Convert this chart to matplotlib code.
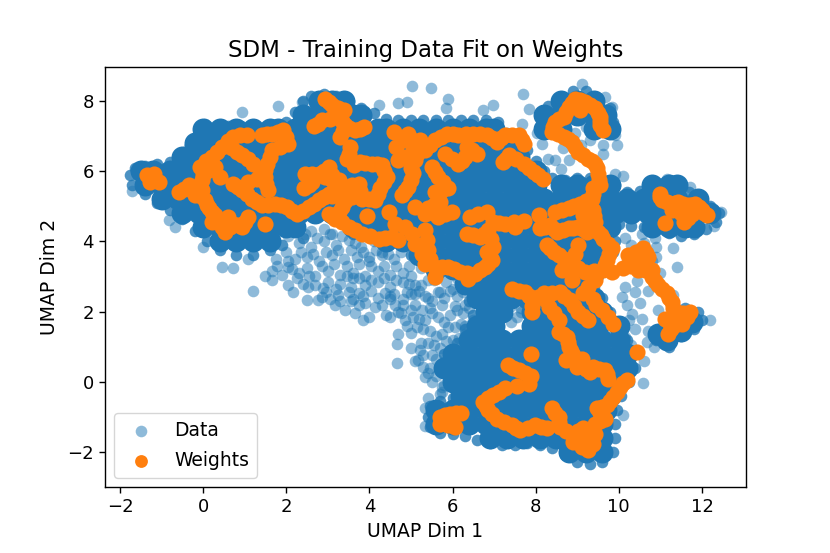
import matplotlib
matplotlib.use("Agg")
import matplotlib.pyplot as plt

# dense middle of the data cloud
core_rows = {
    8.0: [2.8, 3.1, 3.4, 8.6, 9.0, 9.4],
    7.6: [2.4, 2.8, 3.2, 3.6, 3.8, 8.2, 8.6, 9.0, 9.4, 9.7],
    7.2: [0.0, 0.4, 0.8, 1.2, 1.6, 1.8, 2.2, 2.6, 3.0, 3.4, 3.8, 4.2, 4.4, 4.8, 5.2, 5.6, 6.0, 6.4, 6.8, 7.0, 8.2, 8.6, 9.4, 9.8],
    6.8: [-0.2, 0.2, 0.6, 1.0, 1.4, 1.8, 2.2, 2.6, 3.0, 3.4, 3.8, 4.2, 4.6, 5.0, 5.4, 5.8, 6.2, 6.6, 7.0, 7.4],
    6.4: [-0.5, -0.1, 0.3, 0.7, 1.1, 1.5, 1.9, 2.3, 2.7, 3.1, 3.5, 3.9, 4.3, 4.7, 5.1, 5.5, 5.9, 6.3, 6.7, 7.1, 7.6],
    6.0: [-1.5, -1.2, -0.8, -0.4, 0.0, 0.4, 0.8, 1.2, 1.6, 2.0, 2.4, 2.8, 3.2, 3.6, 4.0, 4.4, 4.8, 5.2, 5.6, 6.0, 6.4, 6.8, 7.2, 7.6, 8.0],
    5.6: [-1.4, -1.0, -0.6, -0.2, 0.2, 0.6, 1.0, 1.4, 1.8, 2.2, 2.6, 3.0, 3.4, 3.8, 4.2, 4.6, 5.0, 5.4, 5.8, 6.2, 6.6, 7.0, 7.4, 7.8, 8.0, 8.6, 9.0, 9.4, 9.8, 10.8, 11.2, 11.4],
    5.2: [-1.0, -0.6, -0.2, 0.2, 0.6, 1.0, 1.4, 1.8, 2.2, 2.6, 3.0, 3.4, 3.8, 4.2, 4.6, 5.0, 5.4, 5.8, 6.2, 6.6, 7.0, 7.4, 7.8, 8.2, 8.6, 9.0, 9.4, 9.8, 10.2, 10.6, 11.0, 11.4, 11.9],
    4.8: [-0.5, -0.1, 0.3, 0.7, 1.1, 1.5, 1.9, 2.3, 2.7, 3.1, 3.5, 3.9, 4.3, 4.7, 5.1, 5.5, 5.9, 6.3, 6.7, 7.1, 7.5, 7.9, 8.3, 8.7, 9.1, 9.5, 9.9, 10.3, 10.7, 11.1, 11.5, 11.9, 12.2],
    4.4: [0.0, 0.4, 0.8, 1.2, 1.6, 2.0, 2.2, 3.6, 4.0, 4.4, 4.8, 5.2, 5.6, 6.0, 6.4, 6.8, 7.2, 7.6, 8.0, 8.4, 8.8, 9.2, 9.6, 9.8, 10.8, 11.2, 11.6, 11.8],
    4.0: [0.4, 0.8, 1.2, 1.6, 4.4, 4.8, 5.2, 5.6, 6.0, 6.4, 6.8, 7.2, 7.6, 8.0, 8.4, 8.8, 9.2, 9.6],
    3.6: [5.2, 5.6, 6.0, 6.4, 6.8, 7.2, 7.6, 8.0, 8.4, 8.8, 9.2, 9.6],
    3.2: [5.6, 6.0, 6.4, 6.8, 7.2, 7.6, 8.0, 8.4, 8.8, 9.2],
    2.8: [6.3, 6.7, 7.1, 7.5, 7.9, 8.3, 8.7, 9.0],
    2.4: [6.6, 7.0, 7.4, 7.8, 8.2, 8.6, 9.0, 9.4],
    2.0: [6.8, 7.2, 7.9, 8.3, 8.7, 9.1, 9.6],
    1.6: [6.6, 7.0, 7.9, 8.3, 8.7, 9.1, 9.5, 10.0],
    1.2: [6.4, 6.8, 7.2, 7.6, 8.0, 8.4, 8.8, 9.2, 9.6, 10.0],
    0.8: [6.0, 6.4, 6.8, 7.2, 7.6, 8.0, 8.4, 8.8, 9.2, 9.6, 10.0, 10.2],
    0.4: [5.8, 6.2, 6.6, 7.0, 7.4, 7.8, 8.2, 8.6, 9.0, 9.4, 9.8, 10.2],
    0.0: [6.0, 6.4, 6.8, 7.2, 7.6, 8.0, 8.4, 8.8, 9.2, 9.6, 10.0],
    -0.4: [6.2, 6.6, 7.0, 7.4, 7.8, 8.2, 8.6, 9.0, 9.4, 9.8],
    -0.8: [5.6, 6.0, 6.4, 6.8, 7.2, 7.6, 8.0, 8.4, 8.8, 9.2, 9.7],
    -1.2: [5.6, 6.0, 6.4, 6.8, 7.2, 7.6, 8.0, 8.4, 8.8, 9.2, 9.6],
    -1.6: [6.9, 7.3, 7.7, 8.1, 8.5, 8.9, 9.3, 9.6],
    -2.0: [8.8, 9.2, 9.6],
}
core_extra = [(11.5, 1.85), (11.75, 1.7), (11.2, 1.6), (11.5, 1.45), (10.95, 1.35), (11.15, 1.2)]

# outline of the solid cloud, points overlap enough to close the scallops
outline = [(-1.7, 5.6), (-1.75, 5.9), (-1.65, 6.1), (-1.4, 6.15), (-1.1, 6.2), (-0.8, 6.25), (-0.5, 6.35), (-0.3, 6.6), (-0.1, 6.85), (0.0, 7.1),
           (0.3, 7.25), (0.6, 7.3), (0.9, 7.3), (1.2, 7.3), (1.5, 7.25), (1.8, 7.2), (2.0, 7.4), (2.2, 7.7), (2.4, 8.0), (2.6, 8.15), (2.9, 8.2),
           (3.2, 8.15), (3.5, 8.0), (3.8, 7.8), (4.1, 7.65), (4.4, 7.5), (4.7, 7.45), (5.0, 7.45), (5.3, 7.45), (5.6, 7.45), (5.9, 7.45), (6.2, 7.45),
           (6.5, 7.45), (6.8, 7.45), (7.1, 7.4), (7.3, 7.1), (7.6, 6.9), (7.8, 6.6), (8.0, 6.3), (8.2, 6.0), (8.4, 5.8), (8.7, 5.75), (9.0, 5.8),
           (9.3, 5.8), (9.6, 5.75), (9.9, 5.6), (10.2, 5.4), (10.5, 5.45), (10.8, 5.55), (11.1, 5.6), (11.4, 5.5), (11.7, 5.4), (12.0, 5.2), (12.2, 5.0),
           (12.4, 4.8), (12.35, 4.55), (12.1, 4.35), (11.8, 4.2), (11.5, 4.15), (11.2, 4.25), (10.9, 4.35), (10.6, 4.4), (10.3, 4.45), (10.0, 4.5),
           (9.8, 4.3), (9.9, 4.0), (9.85, 3.7), (9.7, 3.3), (9.5, 3.0), (9.4, 2.7), (9.6, 2.4), (9.8, 2.0), (10.1, 1.6), (10.2, 1.2), (10.35, 0.8),
           (10.4, 0.4), (10.25, 0.0), (10.05, -0.4), (9.95, -0.8), (9.9, -1.2), (9.9, -1.6), (9.85, -2.0), (9.6, -2.3), (9.3, -2.35), (9.0, -2.3),
           (8.7, -2.1), (8.4, -1.9), (8.1, -1.8), (7.8, -1.75), (7.5, -1.8), (7.2, -1.8), (6.9, -1.75), (6.6, -1.65), (6.3, -1.55), (6.0, -1.5), (5.7, -1.45),
           (5.45, -1.3), (5.4, -1.0), (5.45, -0.7), (5.7, -0.55), (6.0, -0.45), (6.05, -0.2), (5.9, 0.1), (5.7, 0.4), (5.8, 0.8), (6.1, 1.1), (6.3, 1.5),
           (6.5, 1.9), (6.4, 2.3), (6.2, 2.8), (5.5, 3.1), (5.0, 3.6), (4.3, 4.0), (3.6, 4.2), (2.4, 4.1), (1.9, 3.9), (1.6, 3.75), (1.2, 3.6), (0.8, 3.6),
           (0.4, 3.75), (0.1, 4.0), (-0.2, 4.3), (-0.5, 4.65), (-0.8, 4.9), (-1.1, 5.1), (-1.4, 5.35),
           (8.2, 7.1), (8.15, 7.5), (8.3, 7.85), (8.6, 8.1), (8.9, 8.3), (9.2, 8.3), (9.5, 8.1), (9.8, 7.8), (9.85, 7.4), (9.8, 7.1),
           (10.9, 1.2), (11.2, 1.0), (11.5, 1.3), (11.8, 1.5), (12.0, 1.75), (11.9, 2.0), (11.6, 2.1)]

# loose points around the edges and in the thin lower left part
data_x = [0.94, 1.79, 5.02, 4.7, 4.9, 2.37, 4.22, -0.07, 0.05, -0.35, -0.83, -0.67, 0.0, 0.45, 0.73, 1.09, 1.77, 2.05, -1.7,
          5.48, 5.9, 5.84, 6.98, 6.74, 7.69, 7.83, 7.66, 8.03, 8.15, 8.47, 8.8, 8.66, 9.11, 9.66, 9.83, 9.79, 9.91, 9.95, 9.63, 9.63, 10.1, 9.91, 11.16, 11.43, 11.71, 11.31, 11.41, 10.55, 10.87, 10.15, 10.9, 12.47, 12.3,
          10.43, 10.15, 10.07, 10.31, 10.95, 10.67, 10.58, 10.1, 12.2, 11.31, 10.15,
          1.65, 2.17, 2.49, 2.77, 2.89, 2.53, 2.85, 3.17, 3.42, 3.25, 3.5, 3.74, 3.66, 3.85, 3.98, 4.14, 3.74, 4.38, 4.62, 4.7, 4.86, 5.0, 5.26, 4.66, 4.67, 5.22, 5.18, 5.3, 5.34, 5.34, 5.34,
          2.3, 2.6, 2.9, 3.2, 3.5, 3.8, 4.1, 4.4, 2.2, 2.5, 2.8, 3.1, 3.4, 3.7, 4.0, 4.3, 4.6, 1.5, 1.9, 2.3, 2.7, 3.0, 3.3, 3.6, 3.9, 4.2, 4.5, 4.8, 5.0, 2.4, 2.7, 3.0, 3.3, 3.6, 3.9, 4.2, 4.5, 4.8, 5.1, 5.4, 1.2, 3.3, 3.6, 3.9, 4.2, 4.5, 4.8, 5.1, 5.4, 5.7, 6.0,
          2.6, 2.9, 3.1, 4.0, 4.3, 4.9, 5.2, 5.5, 5.8, 6.1, 4.5, 4.9, 5.2, 5.5, 5.8, 6.1, 6.4, 4.7, 5.0, 5.3, 5.6, 5.9, 6.2, 6.5, 5.0, 5.4, 5.7, 6.0, 6.3, 5.1, 5.5, 5.8, 6.1, 6.4, 5.4, 5.7, 6.0, 5.5, 5.8, 5.7,
          10.3, 10.6, 10.9, 10.2, 10.5, 10.8, 11.0, 10.4, 10.7, 10.2, 10.5, 10.25, 10.55, 10.4, 10.7, 10.3, 10.85, 10.6,
          7.4, 7.55, 7.3, 7.65, 8.1, 8.35, 8.2, 8.45, 8.3, 8.6, 9.05, 9.2, 8.95, 9.0, 9.3, 9.1]
data_y = [7.69, 7.85, 8.42, 7.95, 7.98, 7.98, 7.88, 7.17, 7.34, 6.7, 4.6, 4.4, 3.85, 3.28, 3.23, 3.5, 3.3, 3.27, 5.45,
          8.36, 8.07, 7.79, 7.88, 7.74, 8.21, 7.78, 7.36, 7.08, 6.79, 6.31, 6.31, 6.65, 8.5, 8.12, 7.84, 7.45, 7.03, 6.74, 6.74, 6.5, 5.86, 5.93, 5.77, 5.6, 5.55, 3.8, 3.27, 4.2, 4.1, 4.1, 3.56, 4.84, 4.45,
          2.86, 2.71, 2.42, 1.94, 2.04, 1.13, -0.04, -0.95, 1.75, 2.47, 1.28,
          2.9, 2.56, 2.33, 2.33, 2.66, 2.7, 2.42, 2.18, 2.04, 2.47, 2.56, 2.52, 1.95, 1.76, 1.85, 2.13, 2.18, 2.52, 2.18, 2.0, 1.75, 2.04, 2.04, 1.09, 0.54, 0.9, 0.62, 0.43, 0.14, -0.76, -1.27,
          3.95, 3.85, 4.0, 3.9, 4.05, 3.85, 4.0, 3.9, 3.5, 3.55, 3.45, 3.6, 3.5, 3.55, 3.45, 3.6, 3.5, 3.0, 3.05, 3.1, 3.0, 3.15, 3.05, 3.1, 3.0, 3.15, 3.05, 3.1, 3.0, 2.8, 2.75, 2.85, 2.8, 2.95, 2.75, 2.85, 2.7, 2.85, 2.75, 2.9, 2.6, 2.3, 2.35, 2.25, 2.4, 2.45, 2.35, 2.5, 2.4, 2.55, 2.65,
          4.3, 4.35, 4.2, 3.55, 3.7, 2.55, 2.6, 2.3, 2.4, 2.45, 1.85, 1.6, 1.8, 1.95, 1.7, 2.05, 2.1, 1.35, 1.4, 1.5, 1.3, 1.55, 1.65, 1.75, 0.95, 1.1, 0.95, 1.2, 1.35, 0.6, 0.75, 0.55, 0.8, 1.0, 0.25, 0.3, 0.55, 0.0, -0.1, -0.35,
          3.9, 3.95, 3.85, 3.4, 3.3, 3.45, 3.1, 2.55, 2.6, 2.2, 2.25, 1.75, 1.8, 1.5, 1.45, 1.05, 1.0, 0.6,
          2.15, 1.85, 1.9, 2.1, 3.0, 2.95, 2.7, 3.1, 6.35, 6.05, 7.45, 7.25, 7.1, 7.55, 6.9, 6.75]
data_more = [(2.05, 4.15), (2.45, 4.2), (2.75, 4.1), (3.05, 4.2), (3.35, 4.15), (3.65, 3.95), (2.0, 3.7), (2.35, 3.7), (2.65, 3.65), (2.95, 3.7),
             (3.25, 3.75), (3.55, 3.75), (3.85, 3.7), (4.15, 3.75), (4.45, 3.65), (4.75, 3.7), (1.75, 3.5), (2.05, 3.45), (1.65, 3.15), (2.15, 3.2),
             (2.5, 3.25), (2.85, 3.3), (3.15, 3.35), (3.45, 3.3), (3.75, 3.35), (4.05, 3.3), (4.35, 3.3), (4.65, 3.3), (4.95, 3.3), (5.25, 3.25),
             (2.25, 2.95), (2.55, 3.0), (3.45, 3.0), (3.75, 2.95), (4.05, 2.9), (4.35, 2.95), (4.65, 2.9), (4.95, 2.8), (5.25, 2.75), (5.55, 2.9),
             (5.85, 2.85), (6.1, 2.95), (2.05, 2.75), (2.95, 2.55), (3.2, 2.65), (3.55, 2.7), (4.05, 2.6), (4.6, 2.5), (5.0, 2.5), (5.35, 2.45),
             (5.65, 2.55), (5.95, 2.6), (6.25, 2.55), (3.05, 2.35), (3.55, 2.3), (3.85, 2.45), (4.3, 2.2), (4.5, 2.35), (4.8, 2.2), (5.1, 2.2),
             (5.45, 2.1), (5.75, 2.2), (6.05, 2.15), (6.3, 2.2), (4.4, 1.9), (4.75, 1.95), (5.05, 1.85), (5.35, 1.75), (5.65, 1.85), (5.95, 1.9),
             (6.25, 1.95), (5.15, 1.55), (5.45, 1.45), (5.75, 1.35), (6.05, 1.55), (6.3, 1.6), (5.25, 1.1), (5.55, 1.05), (5.85, 1.15), (6.15, 1.25),
             (5.3, 0.75), (5.6, 0.65), (5.45, 0.4), (5.6, 0.15), (5.75, -0.15), (5.4, -0.45), (5.75, -0.3), (7.5, 2.3), (7.65, 2.0), (7.4, 1.7)]

# fitted weights, they trace a ragged path through the cloud
weights_x = [-1.35, -1.19, -1.15, -1.27, -1.07, -0.59, -0.35, -0.19, -0.03, 0.05, 0.13, 0.29, 0.21, 0.45, 0.53, 0.73, 0.93, 1.09, 0.61,
             -0.03, -0.07, 0.21, 0.29, 0.41, 0.13, 0.45, 0.73, 1.05, 0.69, 0.93, 1.21, 1.41, 1.65, 1.93, 2.05, 1.65, 1.53, 1.49, 1.57, 1.29, 1.09, 0.73, 0.93, 1.17, 1.41, 1.73, 2.01, 2.26, 2.54, 2.78, 3.02, 1.48,
             2.94, 3.1, 3.38, 3.26, 2.86, 2.66, 3.42, 3.3, 3.66, 3.88, 3.54, 3.46, 3.62, 3.78, 4.06, 4.3, 4.42, 4.26, 4.14, 3.82, 3.74, 3.42, 3.18, 3.02, 2.78, 2.46, 2.62, 2.42, 2.94, 3.26, 3.58, 3.94, 3.34, 3.18, 3.5, 3.82, 4.22, 4.54, 4.46, 4.62, 4.7, 4.86, 5.1, 5.34, 5.02, 5.26, 5.1, 5.34,
             4.6, 4.7, 4.94, 5.06, 5.22, 5.1, 5.06, 4.94, 4.78,
             5.34, 5.58, 5.86, 6.14, 6.5, 6.82, 7.06, 7.26, 7.59, 7.73, 6.34, 6.58, 6.14, 6.3, 5.82, 7.22, 7.35, 7.71, 7.95, 8.17,
             5.5, 5.66, 5.9, 5.58, 5.7, 5.42, 5.66, 5.98, 6.42, 6.82, 6.98, 7.26, 7.71, 7.5, 6.34, 6.66, 6.86, 6.98, 6.82, 6.94, 6.78, 6.54, 6.18, 5.9, 5.58, 5.42, 5.34,
             8.07, 8.11, 8.35, 8.51, 8.79, 9.03, 9.23, 9.43, 9.39, 9.15, 8.47, 8.79, 9.07, 9.35, 9.39, 9.55, 9.51, 9.43, 9.27,
             9.01, 8.87, 8.67, 8.39, 8.47, 8.67, 8.79, 8.95, 9.19, 9.43, 9.55, 9.55, 9.63, 9.07,
             11.0, 11.03, 11.27, 11.43, 11.68, 11.84, 12.0, 12.12, 11.11, 11.56, 11.76, 11.27,
             9.51, 9.63, 9.83, 9.71, 9.63, 9.83, 9.19, 8.87, 9.03, 8.67, 8.43, 8.27, 8.63,
             10.23, 10.59, 10.71, 10.35, 10.11, 10.47, 10.79,
             7.44, 7.75, 7.91, 7.91, 8.19, 8.31, 8.59, 8.55, 8.83, 9.03, 9.27, 9.39, 9.27, 9.59, 9.87, 8.55, 8.75, 8.79, 8.91, 8.73, 9.11, 8.99, 9.39, 9.31, 9.67, 9.75, 10.19, 10.03, 9.87, 9.71, 9.47, 9.67, 9.43,
             7.89, 7.33, 7.59, 7.89, 7.83, 7.26, 6.98, 6.74, 6.86, 7.06, 7.43, 7.63, 7.99, 8.27, 8.39, 8.55, 8.59, 8.87, 9.15, 9.43, 8.91, 9.27, 9.39, 9.11,
             5.7, 5.7, 6.06, 5.94, 6.21, 10.43,
             11.11, 11.19, 11.36, 11.64, 11.52, 11.72, 11.39, 11.27, 11.15, 10.95, 10.79,
             6.38, 5.58, 9.43, 8.87]
weights_y = [5.89, 5.93, 5.74, 5.7, 5.7, 5.41, 5.6, 5.32, 5.46, 5.17, 4.94, 4.75, 4.56, 4.41, 4.27, 4.51, 4.41, 4.7, 4.7,
             5.74, 6.12, 6.41, 6.12, 5.84, 6.03, 6.69, 6.98, 7.03, 6.65, 6.46, 6.22, 7.03, 7.07, 7.17, 6.79, 6.6, 6.22, 5.84, 5.46, 5.79, 5.7, 5.65, 5.46, 5.22, 5.03, 5.08, 4.98, 4.79, 4.98, 5.17, 5.36, 4.51,
             8.07, 7.88, 7.74, 7.55, 7.45, 7.28, 7.31, 6.98, 7.17, 7.26, 6.69, 6.36, 6.17, 6.27, 6.22, 6.17, 5.84, 5.51, 5.17, 5.22, 5.65, 5.55, 5.65, 6.12, 5.93, 5.93, 5.7, 5.51, 5.84, 5.74, 5.27, 4.72, 4.98, 4.65, 4.41, 4.22, 4.08, 4.13, 4.84, 4.51, 4.03, 4.41, 4.98, 4.79, 4.22, 3.65, 3.94, 3.37,
             7.12, 6.31, 7.07, 6.69, 6.88, 6.31, 5.94, 5.55, 5.32,
             6.6, 6.88, 7.07, 7.03, 7.07, 7.03, 6.84, 7.03, 7.03, 6.77, 6.7, 6.5, 6.22, 6.41, 6.5, 6.27, 6.46, 6.22, 5.98, 5.79,
             6.12, 5.84, 5.51, 5.41, 5.13, 4.94, 4.7, 4.84, 4.7, 4.84, 4.56, 4.51, 4.58, 4.41, 4.22, 4.13, 4.32, 3.84, 3.7, 3.46, 3.27, 3.08, 3.13, 3.27, 3.27, 3.75, 4.32,
             4.75, 4.37, 4.46, 4.27, 4.37, 4.41, 4.27, 4.56, 4.89, 4.75, 4.84, 4.94, 5.08, 5.22, 5.51, 5.6, 5.93, 6.22, 6.36,
             6.55, 6.84, 6.98, 7.12, 7.41, 7.55, 7.83, 8.07, 7.98, 7.79, 7.55, 7.31, 7.17, 7.74,
             5.36, 5.17, 5.08, 5.13, 5.03, 5.08, 4.89, 4.75, 4.53, 4.56, 4.79, 4.89,
             4.27, 4.08, 3.8, 3.46, 3.18, 3.13, 3.13, 3.37, 3.89, 3.51, 3.7, 3.89, 3.18,
             3.6, 3.8, 3.56, 3.37, 3.23, 3.18, 3.18,
             2.63, 2.56, 2.33, 2.0, 2.52, 2.14, 2.56, 1.75, 2.33, 1.99, 2.7, 2.37, 1.75, 2.04, 1.66, 1.42, 1.28, 0.99, 0.76, 0.61, 0.66, 0.42, 0.42, 0.28, 0.33, 0.09, 0.06, -0.15, -0.43, -0.67, -0.76, -1.05, -1.19,
             0.79, 0.47, 0.33, 0.16, -0.05, -0.19, -0.38, -0.57, -0.81, -1.05, -1.24, -1.38, -1.24, -1.33, -0.76, -1.0, -1.29, -1.48, -1.33, -1.48, -1.71, -1.95, -1.76, -1.86,
             -1.0, -1.19, -1.29, -0.91, -0.89, 0.85,
             1.8, 1.37, 1.61, 1.85, 1.66, 1.99, 1.99, 2.28, 2.52, 2.75, 2.99,
             2.94, 2.99, 2.9, 2.9]
weights_more = [(-0.47, 5.5), (-0.27, 5.46), (0.09, 5.05), (0.21, 4.85), (0.37, 4.58), (0.65, 4.4), (0.83, 4.46), (1.01, 4.55), (-0.05, 5.3), (0.0, 5.9),
                (0.07, 6.3), (0.33, 6.55), (0.59, 6.85), (0.89, 7.02), (0.81, 6.55), (1.07, 6.35), (1.53, 7.05), (1.79, 7.12), (2.0, 6.98), (1.85, 6.7),
                (1.6, 6.4), (1.5, 6.03), (1.52, 5.65), (1.37, 5.9), (0.83, 5.55), (1.05, 5.34), (1.29, 5.12), (1.57, 5.05), (1.87, 5.03), (2.13, 4.88),
                (2.4, 4.88), (2.66, 5.08), (2.9, 5.26), (3.1, 5.3), (3.3, 5.45), (3.02, 4.78), (3.1, 4.72), (3.34, 4.55), (3.66, 4.32), (4.02, 4.15), (4.38, 4.1),
                (3.02, 7.98), (3.24, 7.8), (3.32, 7.65), (3.06, 7.5), (2.76, 7.36), (3.34, 7.43), (3.36, 7.15), (3.5, 7.24), (3.77, 7.2), (3.5, 6.5),
                (3.9, 6.24), (4.18, 6.2), (4.36, 6.0), (4.34, 5.68), (4.2, 5.34), (3.98, 5.2), (3.78, 5.45), (3.58, 5.6), (3.3, 5.6), (3.1, 5.9), (2.9, 6.0),
                (2.62, 5.93), (2.54, 5.6), (3.1, 5.75), (3.42, 5.15), (3.26, 4.85),
                (4.65, 6.7), (4.85, 6.4), (5.0, 6.1), (5.0, 5.75), (4.86, 5.43), (4.82, 6.9), (5.02, 6.9), (5.14, 6.5), (5.18, 6.7), (5.46, 6.75), (5.72, 6.98),
                (6.0, 7.05), (6.32, 7.05), (6.66, 7.05), (6.94, 6.95), (7.16, 6.95), (7.42, 7.03), (7.66, 6.9), (6.46, 6.6), (6.22, 6.3), (5.98, 6.36),
                (7.28, 6.36), (7.53, 6.34), (7.83, 6.1), (8.06, 5.88), (5.58, 5.98), (5.78, 5.68), (5.74, 5.46), (5.64, 5.27), (5.56, 5.04), (5.54, 4.82),
                (5.82, 4.77), (6.62, 4.77), (7.12, 4.53), (7.48, 4.55), (6.5, 4.18), (6.76, 4.2), (6.92, 4.08), (6.9, 3.58), (6.86, 3.36), (6.66, 3.18),
                (6.36, 3.1), (6.04, 3.2), (5.74, 3.27), (5.46, 3.5), (5.38, 4.05),
                (8.23, 4.42), (8.43, 4.36), (8.65, 4.32), (8.91, 4.39), (9.13, 4.34), (9.33, 4.4), (9.41, 4.72), (8.63, 4.89), (8.93, 5.01), (9.21, 5.15),
                (9.37, 5.36), (9.53, 5.76), (9.47, 6.08), (9.35, 6.29), (9.14, 6.46), (8.94, 6.7), (8.77, 6.91), (8.53, 7.05), (8.42, 7.27), (8.57, 7.48),
                (8.73, 7.69), (8.87, 7.95), (9.07, 8.03), (9.31, 7.89), (9.49, 7.67), (9.55, 7.43),
                (11.0, 5.26), (11.15, 5.12), (11.35, 5.1), (11.55, 5.08), (11.76, 5.05), (11.92, 4.98), (12.06, 4.82), (11.66, 4.68), (11.5, 4.8),
                (9.57, 4.18), (9.73, 3.94), (9.77, 3.63), (9.67, 3.32), (9.41, 3.15), (8.95, 3.63), (8.77, 3.44), (8.55, 3.6), (8.35, 3.8), (8.75, 3.27), (9.03, 3.25),
                (10.41, 3.7), (10.65, 3.68), (10.53, 3.46), (10.29, 3.3), (10.63, 3.18), (11.05, 2.64), (10.87, 2.87), (11.21, 2.4),
                (7.6, 2.6), (7.83, 2.45), (7.91, 2.16), (8.05, 2.42), (8.25, 2.33), (8.39, 2.54), (8.43, 1.95), (8.67, 2.45), (8.93, 2.16), (9.15, 1.87),
                (9.15, 2.53), (9.45, 2.2), (9.73, 1.85), (8.65, 1.35), (8.77, 1.13), (8.85, 0.87), (9.05, 0.54), (9.2, 0.35), (9.53, 0.37), (9.71, 0.21),
                (10.11, -0.04), (9.95, -0.29), (9.79, -0.55), (9.59, -0.71), (9.55, -0.9), (9.55, -1.12),
                (7.46, 0.4), (7.74, 0.25), (7.55, -0.12), (7.12, -0.28), (6.86, -0.47), (6.8, -0.69), (6.96, -0.93), (7.25, -1.15), (7.53, -1.31), (7.81, -1.31),
                (8.13, -1.28), (8.47, -0.88), (8.57, -1.15), (8.73, -1.39), (9.01, -1.4), (9.29, -1.4), (9.0, -1.6), (9.2, -1.65), (5.82, -0.95), (5.88, -1.24),
                (6.08, -0.9), (11.25, 1.5), (11.47, 1.75), (11.55, 1.95), (11.21, 1.7), (11.3, 2.1)]

core_x = []
core_y = []
for row_y, row_x in core_rows.items():
    for v in row_x:
        core_x.append(v)
        core_y.append(row_y)
for p in core_extra:
    core_x.append(p[0])
    core_y.append(p[1])

fig = plt.figure(figsize=(8.3, 5.53), dpi=100)
ax = fig.add_axes([0.1265, 0.1193, 0.7723, 0.7595])

ax.scatter(data_x + [p[0] for p in data_more], data_y + [p[1] for p in data_more],
           s=70, color="#1f77b4", alpha=0.5, linewidths=0, label="Data", zorder=2)
ax.scatter([p[0] for p in outline], [p[1] for p in outline], s=70, color="#1f77b4", alpha=0.8, linewidths=0, zorder=3)
ax.scatter(core_x, core_y, s=250, color="#1f77b4", linewidths=0, zorder=3)
ax.scatter(weights_x + [p[0] for p in weights_more], weights_y + [p[1] for p in weights_more],
           s=135, color="#ff7f0e", linewidths=0, zorder=4)
# legend entry keeps the smaller dot of the reference
ax.scatter([], [], s=85, color="#ff7f0e", linewidths=0, label="Weights")

ax.set_xlim(-2.36, 13.06)
ax.set_ylim(-3.0, 8.97)
ax.set_xticks([-2, 0, 2, 4, 6, 8, 10, 12])
ax.set_yticks([-2, 0, 2, 4, 6, 8])
ax.tick_params(labelsize=13, width=1.0, length=4.5)
for spine in ax.spines.values():
    spine.set_linewidth(1.0)

ax.set_title("SDM - Training Data Fit on Weights", fontsize=16.5, pad=7)
ax.set_xlabel("UMAP Dim 1", fontsize=13.5, labelpad=4)
ax.set_ylabel("UMAP Dim 2", fontsize=13.5, labelpad=6)
ax.legend(loc="lower left", fontsize=13.5, labelspacing=0.6)

fig.savefig("out.png", dpi=100)
